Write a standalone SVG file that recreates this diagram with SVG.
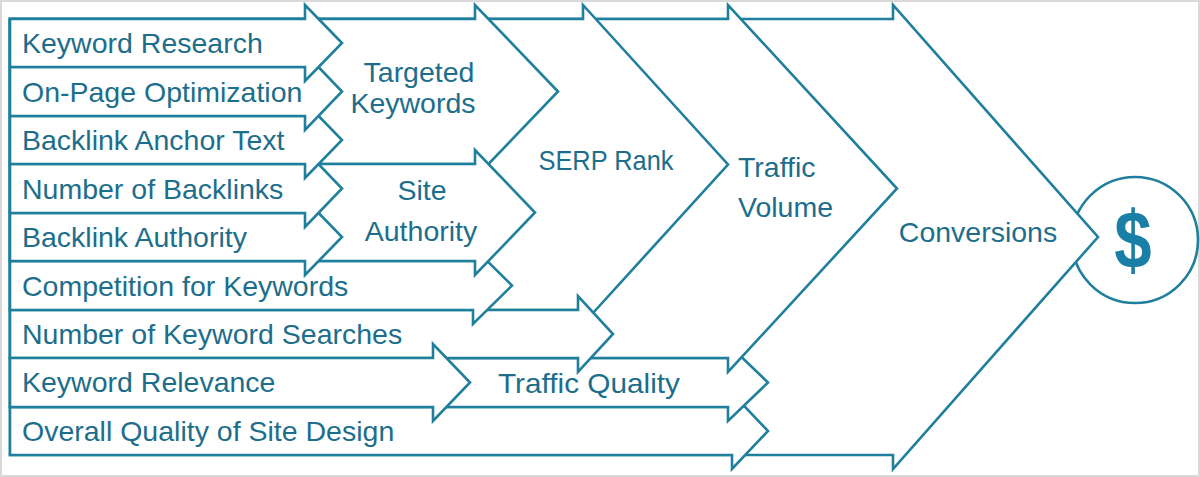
<svg xmlns="http://www.w3.org/2000/svg" width="1200" height="477" viewBox="0 0 1200 477">
<style>
.a{fill:#ffffff;stroke:#1f7f9c;stroke-width:2.6;stroke-linejoin:miter}
.t{font-family:"Liberation Sans",Arial,sans-serif;font-size:28.5px;fill:#1d6e8b}
.m{text-anchor:middle}
</style>
<rect x="0" y="0" width="1200" height="477" fill="#ffffff"/>
<rect x="1" y="1" width="1198" height="475" fill="none" stroke="#d9d9d9" stroke-width="2"/>
<g id="dollar">
<circle class="a" cx="1135" cy="240" r="63"/>
<text transform="translate(1133,268) scale(0.82,1)" x="0" y="0" font-family="Liberation Sans,Arial,sans-serif" font-weight="bold" font-size="82" fill="#1a7fa6" text-anchor="middle">$</text>
</g>
<g id="conversions">
<polygon class="a" points="10,19 893,19 893,5 1098,237 893,469 893,455 10,455"/>
<text class="t m" x="978" y="242">Conversions</text>
</g>
<g id="overall-quality">
<polygon class="a" points="10,407 732,407 732,393 768,431 732,469 732,455 10,455"/>
<text class="t" x="22" y="441">Overall Quality of Site Design</text>
</g>
<g id="traffic-quality">
<polygon class="a" points="10,358 728,358 728,344 768,382.5 728,421 728,407 10,407"/>
<text class="t m" x="589" y="393" textLength="182" lengthAdjust="spacingAndGlyphs">Traffic Quality</text>
</g>
<g id="traffic-volume">
<polygon class="a" points="10,19 728,19 728,5 897,188.5 728,372 728,358 10,358"/>
<text class="t" x="738" y="177">Traffic</text>
<text class="t" x="738" y="217">Volume</text>
</g>
<g id="serp-rank">
<polygon class="a" points="10,19 583,19 583,5 728,164.5 583,324 583,310 10,310"/>
<text class="t m" x="606" y="170" textLength="135" lengthAdjust="spacingAndGlyphs">SERP Rank</text>
</g>
<g id="keyword-searches">
<polygon class="a" points="10,310 578,310 578,296 613,334 578,372 578,358 10,358"/>
<text class="t" x="22" y="344">Number of Keyword Searches</text>
</g>
<g id="competition">
<polygon class="a" points="10,261 473,261 473,247 512,285.5 473,324 473,310 10,310"/>
<text class="t" x="22" y="296">Competition for Keywords</text>
</g>
<g id="targeted-keywords">
<polygon class="a" points="10,19 475,19 475,5 558,91.5 475,178 475,164 10,164"/>
<text class="t m" x="419" y="82">Targeted</text>
<text class="t m" x="413" y="113">Keywords</text>
</g>
<g id="site-authority">
<polygon class="a" points="10,164 475,164 475,150 535,212.5 475,275 475,261 10,261"/>
<text class="t m" x="422" y="200">Site</text>
<text class="t m" x="421" y="241">Authority</text>
</g>
<g id="keyword-relevance">
<polygon class="a" points="10,358 433,358 433,344 470,382.5 433,421 433,407 10,407"/>
<text class="t" x="22" y="392">Keyword Relevance</text>
</g>
<g id="backlink-authority">
<polygon class="a" points="10,213 305,213 305,199 342,237 305,275 305,261 10,261"/>
<text class="t" x="22" y="247">Backlink Authority</text>
</g>
<g id="number-of-backlinks">
<polygon class="a" points="10,164 305,164 305,150 342,188.5 305,227 305,213 10,213"/>
<text class="t" x="22" y="199">Number of Backlinks</text>
</g>
<g id="anchor-text">
<polygon class="a" points="10,116 305,116 305,102 342,140 305,178 305,164 10,164"/>
<text class="t" x="22" y="150">Backlink Anchor Text</text>
</g>
<g id="on-page">
<polygon class="a" points="10,67 305,67 305,53 342,91.5 305,130 305,116 10,116"/>
<text class="t" x="22" y="102">On-Page Optimization</text>
</g>
<g id="keyword-research">
<polygon class="a" points="10,19 305,19 305,5 342,43 305,81 305,67 10,67"/>
<text class="t" x="22" y="53">Keyword Research</text>
</g>
</svg>
